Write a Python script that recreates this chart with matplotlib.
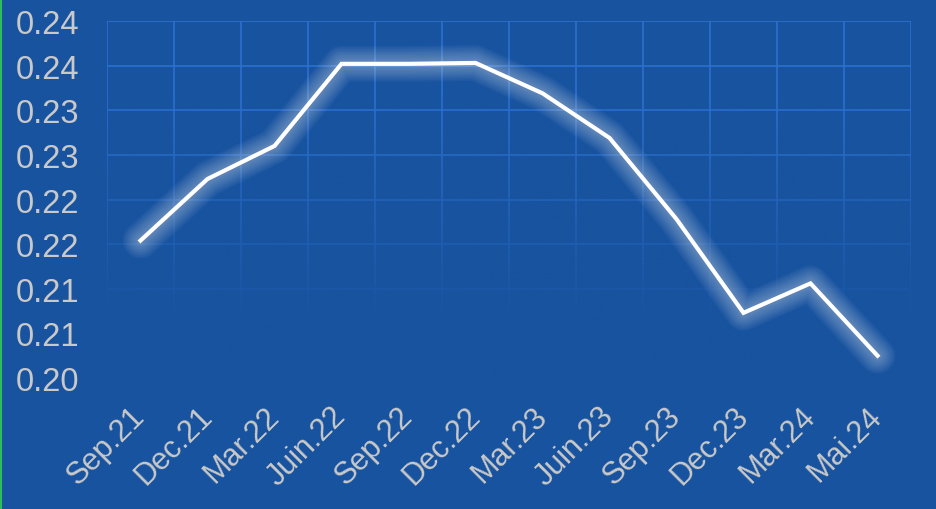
import numpy as np
import matplotlib.pyplot as plt
from matplotlib.lines import Line2D

# data
periods = ['Sep.21', 'Dec.21', 'Mar.22', 'Juin.22', 'Sep.22', 'Dec.22',
           'Mar.23', 'Juin.23', 'Sep.23', 'Dec.23', 'Mar.24', 'Mai.24']
values = [0.2154, 0.2223, 0.2260, 0.2352, 0.2352, 0.2353,
          0.2319, 0.2269, 0.2178, 0.2073, 0.2106, 0.2025]
y_ticks = [0.200, 0.205, 0.210, 0.215, 0.220, 0.225, 0.230, 0.235, 0.240]
y_tick_labels = ['0.20', '0.21', '0.21', '0.22', '0.22', '0.23', '0.23', '0.24', '0.24']

bg = '#18539f'
grid_col = '#2b6fd0'
txt_col = '#c9c9c9'

plt.rcParams['font.family'] = ['Liberation Sans', 'DejaVu Sans']

fig = plt.figure(figsize=(9.37, 5.10), dpi=100, facecolor=bg)
ax = fig.add_axes([107 / 937, 1 - 379 / 510, 804 / 937, 357 / 510])
ax.set_facecolor(bg)

x = np.arange(len(periods))

# grid between categories, fading towards the bottom
for gx in np.arange(-0.5, len(periods), 1.0):
    ax.axvline(gx, color=grid_col, lw=1.2, zorder=1)
for gy in y_ticks:
    ax.axhline(gy, color=grid_col, lw=1.2, zorder=1)

fade = np.zeros((256, 1, 4))
fade[:, 0, :3] = np.array([0x18, 0x53, 0x9f]) / 255
fade[:, 0, 3] = np.clip(np.linspace(-0.35, 1.25, 256), 0, 1)
ax.imshow(fade, extent=[0, 1, 0, 1], transform=ax.transAxes, aspect='auto',
          zorder=2, interpolation='bilinear')

# soft glow around the line
for lw in np.linspace(26, 6, 10):
    ax.plot(x, values, color='white', lw=lw, alpha=0.035, zorder=3,
            solid_joinstyle='round', solid_capstyle='round')
ax.plot(x, values, color='white', lw=3, zorder=4, solid_joinstyle='miter')

ax.set_xlim(-0.5, len(periods) - 0.5)
ax.set_ylim(0.20, 0.24)
ax.set_yticks(y_ticks)
ax.set_yticklabels(y_tick_labels)
ax.set_xticks(x)
ax.set_xticklabels(periods, rotation=45, ha='right', va='center', rotation_mode='anchor')

ax.tick_params(axis='y', length=0, pad=20, labelsize=23.5, labelcolor=txt_col)
ax.tick_params(axis='x', length=0, pad=24, labelsize=22, labelcolor=txt_col)
for s in ax.spines.values():
    s.set_visible(False)

fig.add_artist(Line2D([0.001, 0.001], [0, 1], transform=fig.transFigure,
                      color='#2ebd5a', lw=1.5))

fig.savefig('out.png', dpi=100, facecolor=bg)
